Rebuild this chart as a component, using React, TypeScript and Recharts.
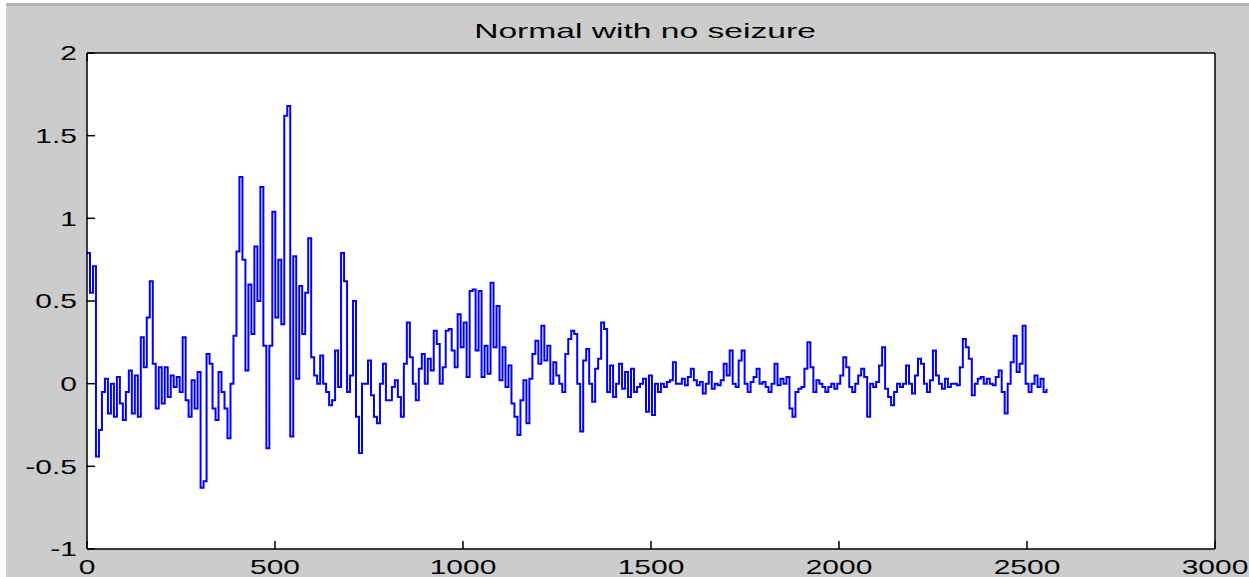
import { LineChart, Line, XAxis, YAxis, CartesianGrid } from 'recharts';

// EEG samples, one value every STEP sample units
const STEP = 7.95;

const seg0 = [
  0.79, 0.55, 0.71, -0.44, -0.28, -0.05, 0.03, -0.18, 0.0, -0.2, 0.04, -0.12, -0.22, -0.05, 0.08, -0.18,
  0.05, -0.2, 0.28, 0.1, 0.4, 0.62, 0.12, -0.15, 0.1, -0.12, 0.1, -0.08, 0.05, -0.02, 0.04, -0.05,
  0.28, -0.1, -0.2, 0.02, -0.15, 0.07, -0.63, -0.59, 0.18, 0.12, -0.15, -0.22, 0.07, -0.05, -0.15, -0.33,
  0.0, 0.29, 0.8, 1.25, 0.75, 0.08, 0.6, 0.3, 0.83, 0.5, 1.19, 0.23, -0.39, 0.23, 1.04, 0.4, 0.75,
];

const seg1 = [
  0.36, 1.62, 1.68, -0.32, 0.77, 0.03, 0.59, 0.3, 0.55, 0.88, 0.16, 0.05, 0.0, 0.17, 0.0, -0.05,
  -0.13, -0.1, 0.2, -0.02, 0.79, 0.62, -0.05, 0.05, 0.5, -0.2, -0.42, 0.0, 0.0, 0.14, -0.07, -0.2,
  -0.24, 0.0, 0.12, -0.1, -0.1, -0.02, 0.02, -0.08, -0.2, 0.12, 0.37, 0.16, 0.0, -0.1, 0.09, 0.18,
  0.0, 0.15, 0.08, 0.32, 0.24, 0.0, 0.1, 0.32, 0.33, 0.2, 0.1, 0.42, 0.22, 0.37, 0.04, 0.56,
];

const seg2 = [
  0.57, 0.2, 0.56, 0.04, 0.23, 0.06, 0.61, 0.22, 0.47, 0.02, 0.22, -0.02, 0.11, -0.12, -0.2, -0.31,
  -0.1, 0.02, -0.24, 0.03, 0.18, 0.26, 0.12, 0.35, 0.14, 0.23, 0.0, 0.13, 0.05, 0.0, -0.05, 0.18,
  0.27, 0.32, 0.3, 0.0, -0.29, 0.14, 0.21, 0.0, -0.11, 0.09, 0.15, 0.37, 0.33, -0.05, 0.11, -0.08,
  0.0, 0.12, -0.03, 0.07, -0.08, 0.09, -0.05, -0.02, 0.0, 0.03, -0.17, 0.05, -0.19, 0.0, -0.05, 0.0,
];

const seg3 = [
  -0.02, 0.01, 0.02, 0.13, 0.0, 0.0, 0.03, -0.01, 0.04, 0.09, 0.02, -0.01, 0.01, -0.06, 0.0, 0.07,
  -0.03, 0.0, -0.01, 0.02, 0.12, 0.05, 0.2, 0.0, -0.02, 0.14, 0.2, 0.0, -0.05, 0.01, 0.04, 0.09,
  0.0, 0.01, -0.02, -0.05, 0.0, 0.12, -0.01, 0.03, 0.0, 0.04, -0.15, -0.2, -0.05, -0.03, -0.02, 0.09,
  0.25, 0.1, -0.05, 0.02, 0.0, -0.02, -0.05, -0.02, 0.0, -0.03, 0.0, 0.05, 0.16, 0.1, -0.02, -0.05,
];

const seg4 = [
  0.0, 0.05, 0.09, 0.04, -0.2, 0.0, -0.02, 0.01, 0.11, 0.22, -0.03, -0.08, -0.13, -0.05, 0.0, -0.02,
  0.0, 0.11, 0.0, -0.06, 0.05, 0.15, 0.12, 0.0, -0.05, 0.02, 0.2, 0.05, 0.0, -0.03, 0.03, -0.02,
  0.0, 0.0, -0.01, 0.1, 0.27, 0.22, 0.15, -0.07, 0.0, 0.03, 0.04, 0.0, 0.03, 0.0, -0.01, 0.04,
  0.08, -0.05, -0.18, 0.0, 0.13, 0.29, 0.07, 0.12, 0.35, 0.0, -0.05, 0.0, 0.05, -0.02, 0.03, -0.05,
  -0.03,
];

const xTicks = [0, 500, 1000, 1500, 2000, 2500, 3000];
const yTicks = [-1, -0.5, 0, 0.5, 1, 1.5, 2];

const samples = [...seg0, ...seg1, ...seg2, ...seg3, ...seg4];
const data = samples.map((v, i) => ({ n: i * STEP, v }));

const FONT = '"Liberation Sans", Arial, sans-serif';
const STRETCH = 1.5;
const TICK = 8;

const BottomTick = ({ x, y, payload }: any) => (
  <g>
    <line x1={x} y1={y} x2={x} y2={y - TICK} stroke='#000' strokeWidth={1.5} />
    <text
      transform={`translate(${x},${y + 25}) scale(${STRETCH},1)`}
      textAnchor='middle'
      fontSize={20}
      fontFamily={FONT}
      fill='#000'
    >
      {payload.value}
    </text>
  </g>
);

const TopTick = ({ x, y }: any) => (
  <line x1={x} y1={y} x2={x} y2={y + TICK} stroke='#000' strokeWidth={1.5} />
);

const LeftTick = ({ x, y, payload }: any) => (
  <g>
    <line x1={x} y1={y} x2={x + TICK} y2={y} stroke='#000' strokeWidth={1.5} />
    <text
      transform={`translate(${x - 10},${y}) scale(${STRETCH},1)`}
      textAnchor='end'
      dy='0.36em'
      fontSize={20}
      fontFamily={FONT}
      fill='#000'
    >
      {payload.value}
    </text>
  </g>
);

const RightTick = ({ x, y }: any) => (
  <line x1={x} y1={y} x2={x - TICK} y2={y} stroke='#000' strokeWidth={1.5} />
);

const axisLine = { stroke: '#000', strokeWidth: 1.5 };

export default function App() {
  return (
    <div style={{ position: 'absolute', left: 0, top: 0, width: 1249, height: 577, background: '#fff', overflow: 'hidden' }}>
      <div
        style={{
          position: 'absolute',
          left: 6,
          top: 3,
          right: 0,
          bottom: 0,
          background: '#cccccc',
          borderTop: '3px solid #b4b4b4',
        }}
      />
      <div
        style={{
          position: 'absolute',
          left: 445,
          top: 19,
          width: 400,
          textAlign: 'center',
          fontFamily: FONT,
          fontSize: 21,
          color: '#000',
          whiteSpace: 'nowrap',
          transform: 'scaleX(1.6)',
        }}
      >
        Normal with no seizure
      </div>
      <div style={{ position: 'absolute', left: 0, top: 0 }}>
        <LineChart
          width={1249}
          height={577}
          data={data}
          margin={{ top: 0, right: 0, bottom: 0, left: 0 }}
        >
          <CartesianGrid fill='#fff' horizontal={false} vertical={false} />
          <XAxis
            dataKey='n'
            type='number'
            domain={[0, 3000]}
            ticks={xTicks}
            height={28}
            tickSize={0}
            tickMargin={0}
            tick={<BottomTick />}
            tickLine={false}
            axisLine={axisLine}
            interval={0}
          />
          <XAxis
            xAxisId='top'
            orientation='top'
            type='number'
            domain={[0, 3000]}
            ticks={xTicks}
            height={53}
            tickSize={0}
            tickMargin={0}
            tick={<TopTick />}
            tickLine={false}
            axisLine={axisLine}
            interval={0}
          />
          <YAxis
            type='number'
            domain={[-1, 2]}
            ticks={yTicks}
            width={87}
            tickSize={0}
            tickMargin={0}
            tick={<LeftTick />}
            tickLine={false}
            axisLine={axisLine}
            interval={0}
          />
          <YAxis
            yAxisId='right'
            orientation='right'
            type='number'
            domain={[-1, 2]}
            ticks={yTicks}
            width={34}
            tickSize={0}
            tickMargin={0}
            tick={<RightTick />}
            tickLine={false}
            axisLine={axisLine}
            interval={0}
          />
          <Line
            type='stepAfter'
            dataKey='v'
            stroke='#0000ff'
            strokeWidth={2}
            dot={false}
            activeDot={false}
            isAnimationActive={false}
          />
        </LineChart>
      </div>
    </div>
  );
}
